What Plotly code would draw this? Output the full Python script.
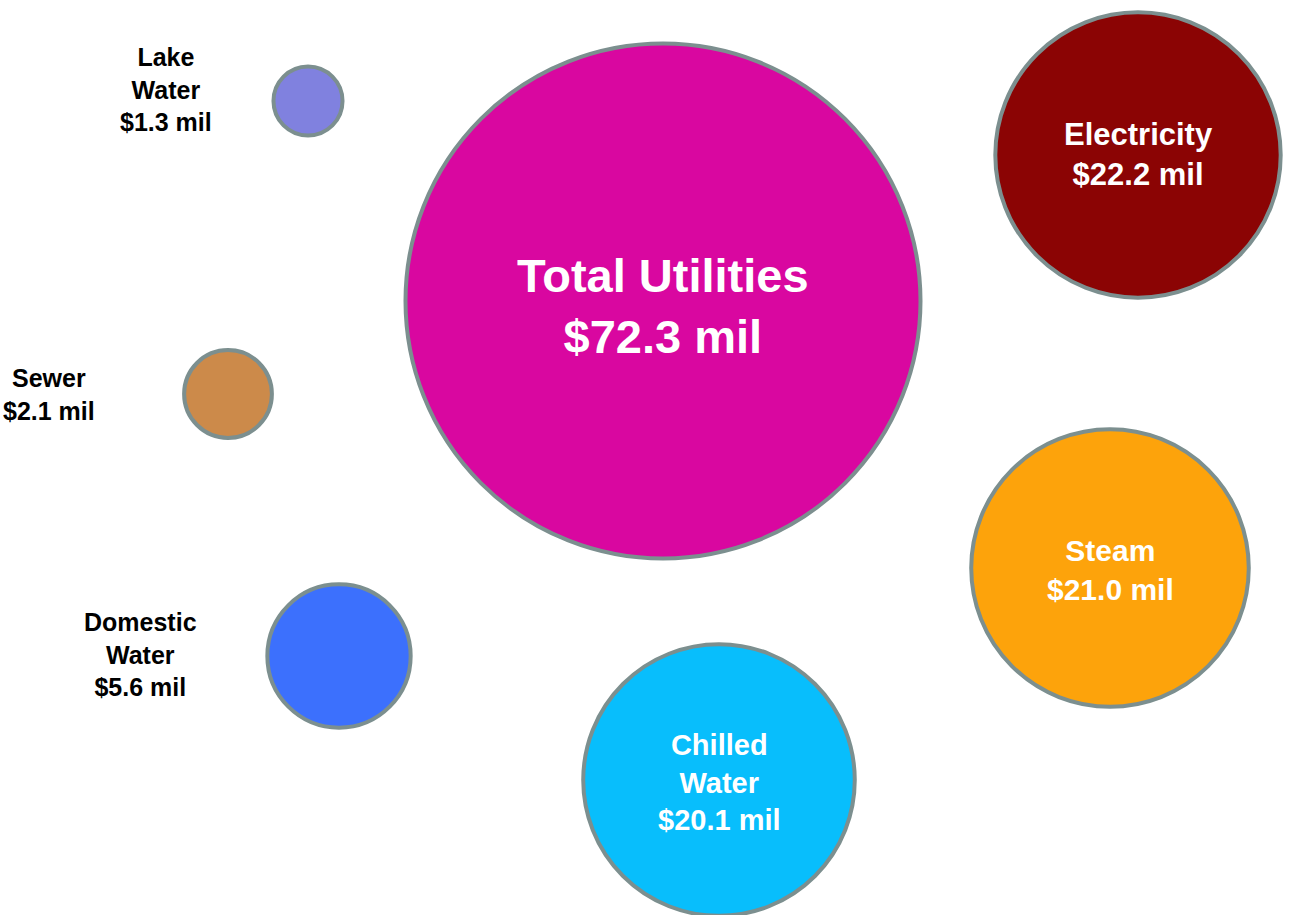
import plotly.graph_objects as go

# Data
categories = ["Total Utilities", "Electricity", "Steam", "Chilled Water",
              "Domestic Water", "Sewer", "Lake Water"]
values_mil = [72.3, 22.2, 21.0, 20.1, 5.6, 2.1, 1.3]
label_lines = ["Total Utilities", "Electricity", "Steam", "Chilled<br>Water",
               "Domestic<br>Water", "Sewer", "Lake<br>Water"]

# Layout (bubble placement on a 0..1289 x 0..915 canvas)
bubble_x = [663, 1138, 1110, 719, 339, 228, 308]
bubble_y = [301, 155, 568, 780, 656, 394, 101]
colors = ["#D907A0", "#8B0404", "#FDA30B", "#08BEFC", "#3C70FD", "#CC8A4A", "#8081DF"]

inside = [True, True, True, True, False, False, False]
outside_label_x = {4: 140, 5: 49, 6: 166}
outside_label_y = {4: 654, 5: 394, 6: 89}

W, H = 1289, 915
max_d = 515
sizeref = 2.0 * max(values_mil) / (max_d ** 2)

fig = go.Figure()
fig.add_trace(go.Scatter(
    x=bubble_x, y=bubble_y, mode="markers",
    marker=dict(size=values_mil, sizemode="area", sizeref=sizeref,
                color=colors, opacity=1,
                line=dict(color="#7C8F8F", width=4)),
    hoverinfo="text", hovertext=categories, showlegend=False,
    cliponaxis=False,
))

# Inside labels
in_sizes = {0: 47, 1: 31, 2: 30, 3: 29}
in_dy = {0: 5, 1: -1, 2: 2, 3: 2}
for i in range(len(categories)):
    if not inside[i]:
        continue
    fig.add_annotation(
        x=bubble_x[i], y=bubble_y[i] + in_dy[i],
        text=f"<b>{label_lines[i]}<br>${values_mil[i]:.1f} mil</b>",
        showarrow=False, align="center",
        font=dict(family="Liberation Sans, Arial, sans-serif",
                  size=in_sizes[i], color="white"),
    )

# Outside labels
for i in range(len(categories)):
    if inside[i]:
        continue
    fig.add_annotation(
        x=outside_label_x[i], y=outside_label_y[i],
        text=f"<b>{label_lines[i]}<br>${values_mil[i]:.1f} mil</b>",
        showarrow=False, align="center",
        font=dict(family="Liberation Sans, Arial, sans-serif", size=25, color="black"),
    )

fig.update_xaxes(range=[0, W], visible=False, fixedrange=True)
fig.update_yaxes(range=[H, 0], visible=False, fixedrange=True)
fig.update_layout(
    width=W, height=H, margin=dict(l=0, r=0, t=0, b=0),
    paper_bgcolor="white", plot_bgcolor="white",
)

fig.write_html(
    "out.html",
    config={"displayModeBar": False},
    post_script="document.body.style.margin='0';document.body.style.overflow='hidden';",
)
